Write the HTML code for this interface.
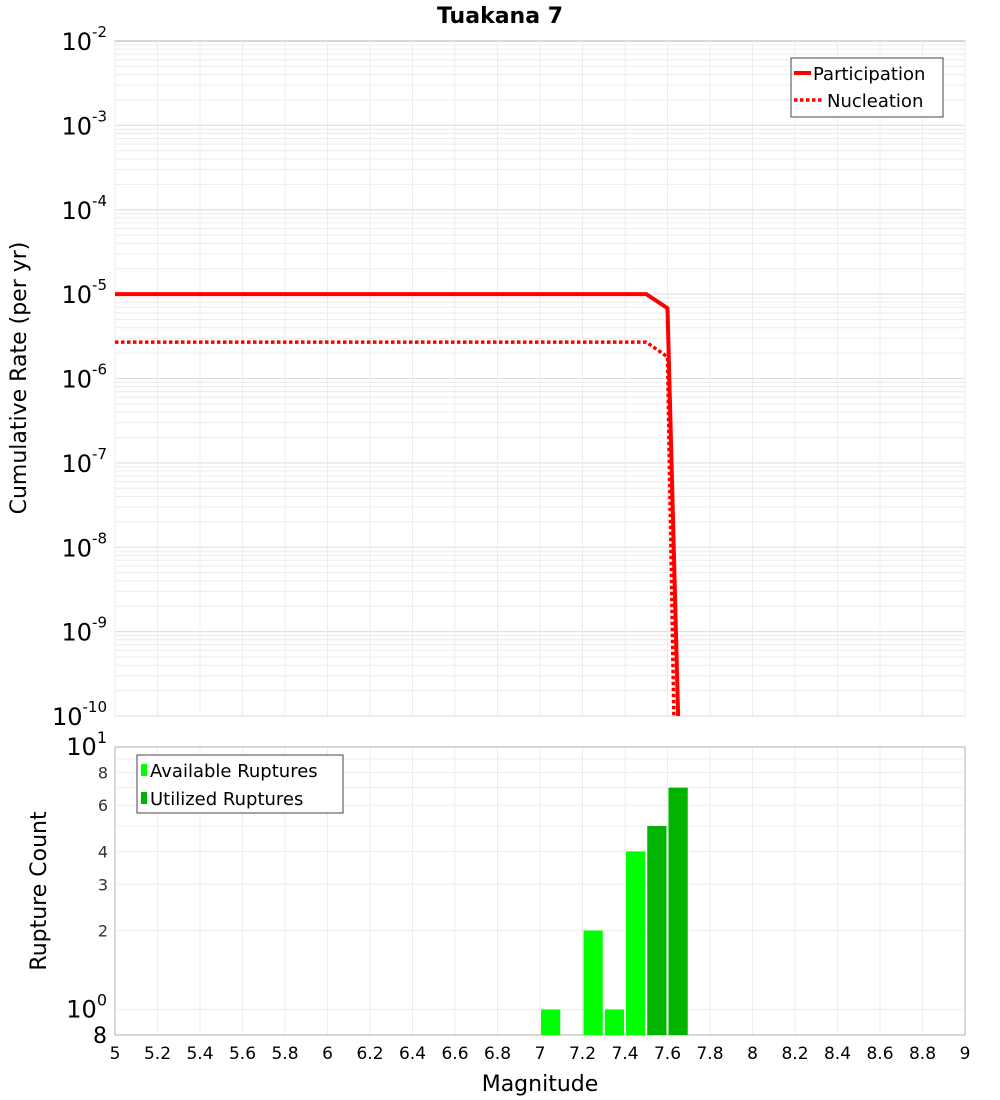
<!DOCTYPE html>
<html><head><meta charset="utf-8"><style>
html,body{margin:0;padding:0;background:#fff;}
svg{display:block;font-family:"DejaVu Sans","Liberation Sans",sans-serif;}
</style></head><body>
<svg id="chart" width="1000" height="1100" xmlns="http://www.w3.org/2000/svg">
<text x="500" y="23" text-anchor="middle" font-size="22" font-weight="bold">Tuakana 7</text>
<g id="topg"></g><g id="botg"></g>
<text transform="translate(26,378) rotate(-90)" text-anchor="middle" font-size="22">Cumulative Rate (per yr)</text>
<text transform="translate(46,891) rotate(-90)" text-anchor="middle" font-size="22">Rupture Count</text>
<text x="540" y="1091" text-anchor="middle" font-size="22">Magnitude</text>
</svg>
<script>
const partMags=[5,7.5,7.6,7.65];
const partRates=[1e-5,1e-5,6.8e-6,1e-10];
const nuclMags=[5,7.5,7.6,7.63];
const nuclRates=[2.7e-6,2.7e-6,1.8e-6,1e-10];
const binStarts=[7.0,7.2,7.3,7.4,7.5,7.6];
const binCounts=[1,2,1,4,5,7];
const binUtilized=[false,false,false,false,true,true];
const xTicks=["5","5.2","5.4","5.6","5.8","6","6.2","6.4","6.6","6.8","7","7.2","7.4","7.6","7.8","8","8.2","8.4","8.6","8.8","9"];
const topExps=[-2,-3,-4,-5,-6,-7,-8,-9,-10];
const botTicks=["8","6","4","3","2"];
const NS="http://www.w3.org/2000/svg";
const L=115,R=965,T1=41,B1=716,T2=747,B2=1035;
const xs=m=>L+(m-5)/4*(R-L);
const y1=v=>T1+(-2-Math.log10(v))*(B1-T1)/8;
const y2=v=>B2-(Math.log10(v)-Math.log10(0.8))/(1-Math.log10(0.8))*(B2-T2);
function mk(p,tag,at,txt){const e=document.createElementNS(NS,tag);for(const k in at)e.setAttribute(k,at[k]);if(txt!==undefined)e.textContent=txt;p.appendChild(e);return e;}
const topG=document.getElementById('topg'),botG=document.getElementById('botg');
const chartEl=document.getElementById('chart');
mk(topG,'rect',{x:L,y:T1,width:R-L,height:B1-T1,fill:'#fff',stroke:'#b0b0b0'});
for(let e=-10;e<-2;e++)for(let k=1;k<10;k++){const y=y1(k*Math.pow(10,e));const g=mk(topG,'line',{x1:L,x2:R,y1:y,y2:y,stroke:k==1?'#dcdcdc':'#ececec','stroke-width':1});}
xTicks.forEach(t=>{const x=xs(+t);mk(topG,'line',{x1:x,x2:x,y1:T1,y2:B1,stroke:'#ececec'});mk(botG,'line',{x1:x,x2:x,y1:T2,y2:B2,stroke:'#ececec'});
const tx=mk(chartEl,'text',{x:x,y:1059,'text-anchor':'middle','font-size':17},t);});
topExps.forEach(e=>{const y=y1(Math.pow(10,e));const t=mk(topG,'text',{x:L-8,y:y+9,'text-anchor':'end','font-size':24});
mk(t,'tspan',{},'10');mk(t,'tspan',{dy:-13,'font-size':15},String(e));});
function path(ms,rs){return ms.map((m,i)=>(i?'L':'M')+xs(m)+','+y1(rs[i])).join(' ');}
const cp=mk(topG,'clipPath',{id:'c1'});mk(cp,'rect',{x:L,y:T1,width:R-L,height:B1-T1});
const pl=mk(topG,'path',{d:path(partMags,partRates),fill:'none',stroke:'#f00','stroke-width':4,'clip-path':'url(#c1)'});


const nl=mk(topG,'path',{d:path(nuclMags,nuclRates),fill:'none',stroke:'#f00','stroke-width':3.5,'stroke-dasharray':'3.5,2.5','clip-path':'url(#c1)'});


const lg=mk(topG,'g',{});


mk(lg,'rect',{x:791,y:58,width:152,height:59,fill:'#fff',stroke:'#444'});
mk(lg,'line',{x1:794,x2:811,y1:73,y2:73,stroke:'#f00','stroke-width':4});
mk(lg,'text',{x:813,y:80,'font-size':18},'Participation');
mk(lg,'line',{x1:794,x2:823,y1:100,y2:100,stroke:'#f00','stroke-width':3.5,'stroke-dasharray':'3.5,2.5'});
mk(lg,'text',{x:827,y:107,'font-size':18},'Nucleation');
mk(botG,'rect',{x:L,y:T2,width:R-L,height:B2-T2,fill:'none',stroke:'#b0b0b0'});
for(let k=1;k<=9;k++){const y=y2(k);if(y>T2&&y<B2)mk(botG,'line',{x1:L,x2:R,y1:y,y2:y,stroke:'#ececec'});}
botTicks.forEach(t=>{const tx=mk(botG,'text',{x:L-7,y:y2(+t)+6,'text-anchor':'end','font-size':16,fill:'#333'},t);});
let t10=mk(botG,'text',{x:L-8,y:y2(10)+8,'text-anchor':'end','font-size':24});mk(t10,'tspan',{},'10');mk(t10,'tspan',{dy:-12,'font-size':16},'1');


let t1=mk(botG,'text',{x:L-8,y:y2(1)+8,'text-anchor':'end','font-size':24});mk(t1,'tspan',{},'10');mk(t1,'tspan',{dy:-12,'font-size':16},'0');


let t8=mk(botG,'text',{x:L-8,y:B2+8,'text-anchor':'end','font-size':22},'8');


binStarts.forEach((m,i)=>{const x0=xs(m)+1,x1=xs(m+0.1)-1,y=y2(binCounts[i]);
const b=mk(botG,'rect',{x:x0,y:y,width:x1-x0,height:B2-y,fill:binUtilized[i]?'#00b400':'#00ff00'});

});
const lg2=mk(botG,'g',{});


mk(lg2,'rect',{x:137,y:755,width:206,height:58,fill:'#fff',stroke:'#444'});
mk(lg2,'rect',{x:141,y:764,width:6,height:12,fill:'#00ff00'});
mk(lg2,'text',{x:150,y:777,'font-size':18},'Available Ruptures');
mk(lg2,'rect',{x:141,y:792,width:6,height:12,fill:'#00b400'});
mk(lg2,'text',{x:150,y:805,'font-size':18},'Utilized Ruptures');
</script>
</body></html>
